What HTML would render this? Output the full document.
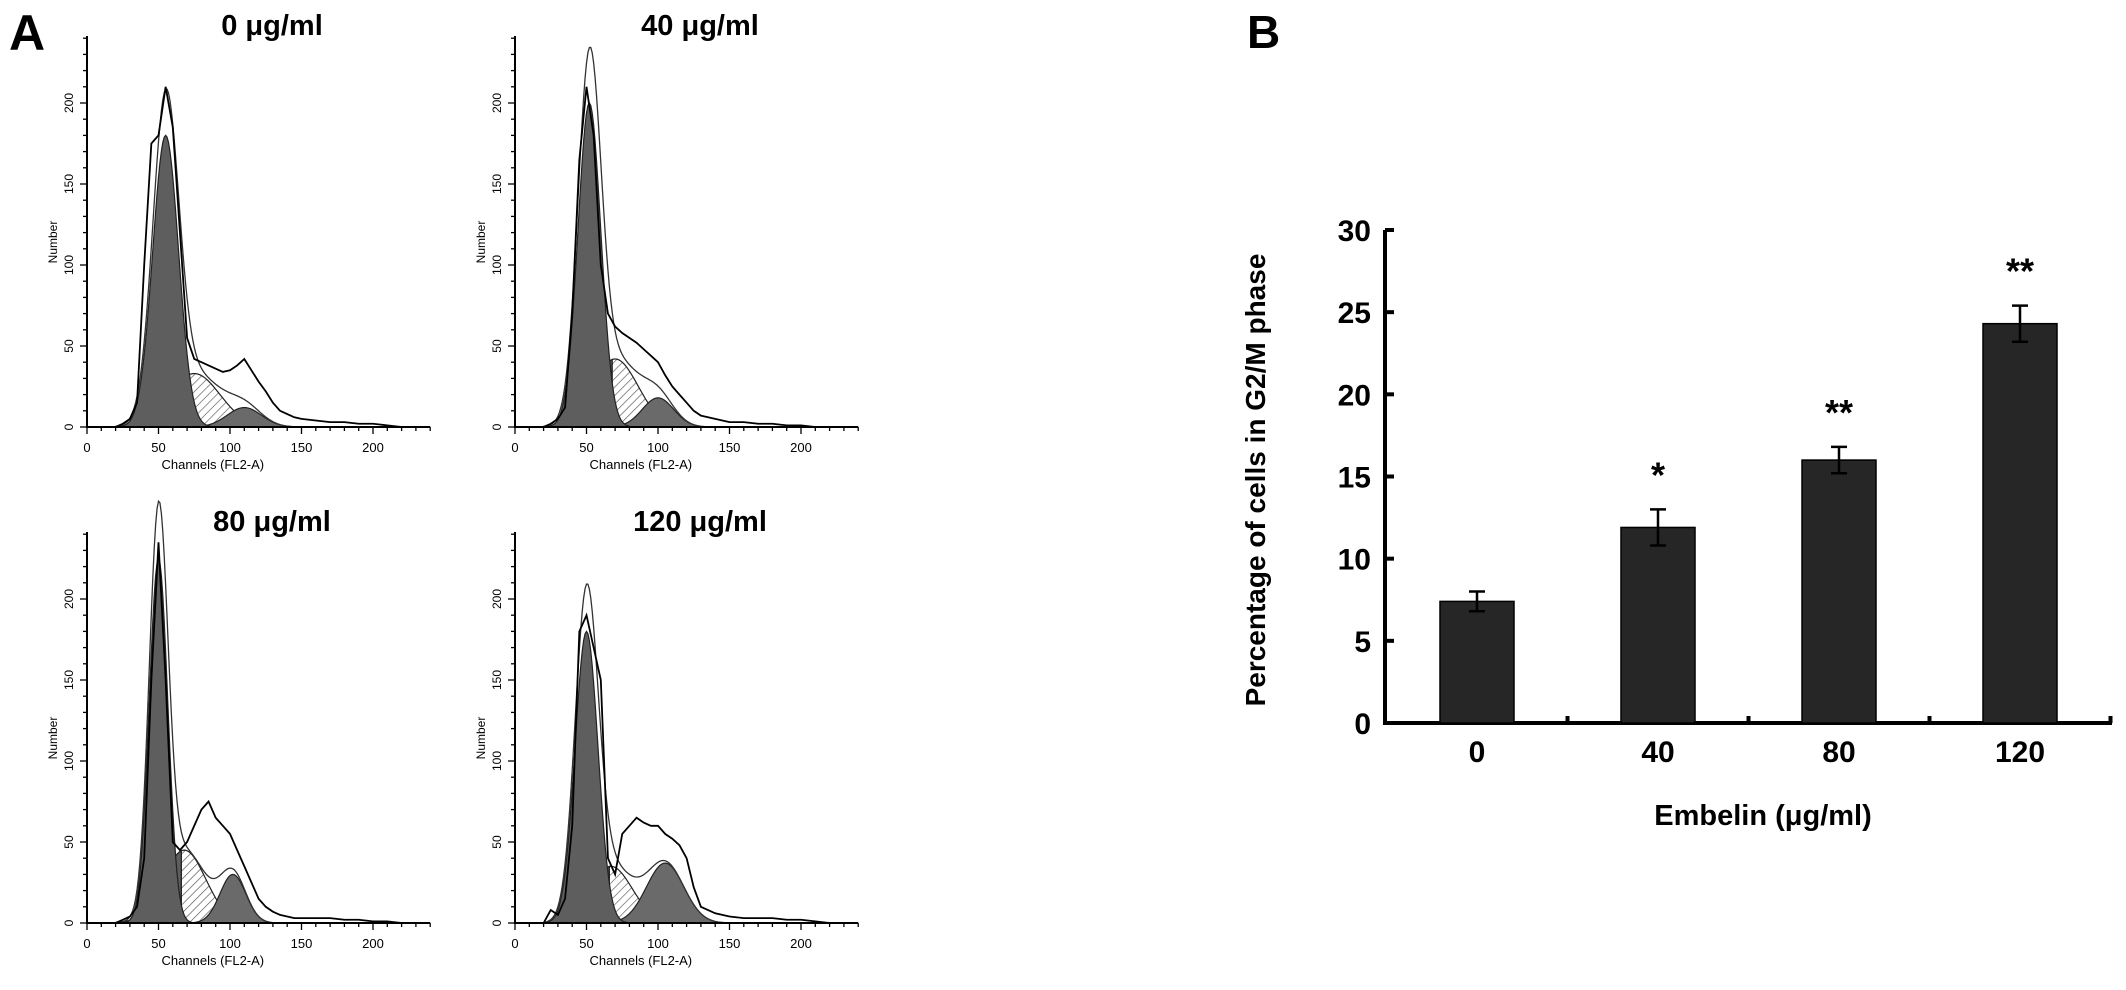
<!DOCTYPE html>
<html><head><meta charset="utf-8"><style>
body{margin:0;background:#fff;}
svg text{font-family:"Liberation Sans",sans-serif;}
</style></head><body>
<svg id="fig" width="2126" height="985" viewBox="0 0 2126 985" xmlns="http://www.w3.org/2000/svg">
<defs>
<pattern id="hatch" patternUnits="userSpaceOnUse" width="6" height="6" patternTransform="rotate(45)">
<rect width="6" height="6" fill="#fff"/><line x1="0" y1="0" x2="0" y2="6" stroke="#555" stroke-width="1.3"/>
</pattern>
</defs>
<text x="9" y="50" font-size="50" font-weight="bold">A</text>
<text x="1247" y="48" font-size="46" font-weight="bold">B</text>
<g id="hists"></g>
<g id="bars"></g>
</svg>
<script>
// ---------- Histogram data ----------
const histTitles = ["0 μg/ml","40 μg/ml","80 μg/ml","120 μg/ml"];
const histChannels = [20,25,30,35,40,45,50,55,60,65,70,75,80,85,90,95,100,105,110,115,120,125,130,135,140,145,150,160,170,180,190,200,210,220];
const histRaw0 = [0,2,5,15,100,175,180,210,185,120,55,42,40,38,36,34,35,38,42,35,28,22,15,10,8,6,5,4,3,3,2,2,1,0];
const histRaw1 = [0,2,5,12,70,165,210,180,100,70,62,58,55,52,48,44,40,32,25,20,15,10,7,6,5,4,3,3,2,2,1,1,0,0];
const histRaw2 = [0,2,4,10,40,150,235,150,50,45,50,60,70,75,65,60,55,45,35,25,15,10,7,5,4,3,3,3,3,2,2,1,1,0];
const histRaw3 = [0,8,5,15,60,180,190,170,150,40,30,55,60,65,62,60,60,55,52,48,40,22,10,8,6,5,4,3,3,3,2,2,1,0];
const histRaws = [histRaw0,histRaw1,histRaw2,histRaw3];
// G1 peak: mean, sd, height
const g1Mean = [55,52,50,50];
const g1Sd = [9,8,6.5,8];
const g1Height = [180,200,225,180];
// S phase broad
const sMean = [75,70,68,67];
const sSd = [18,16,15,15];
const sHeight = [33,42,45,35];
// G2 peak
const g2Mean = [110,100,102,105];
const g2Sd = [12,11,9,13];
const g2Height = [12,18,30,37];

const NS="http://www.w3.org/2000/svg";
function el(tag,attrs,parent){const e=document.createElementNS(NS,tag);for(const k in attrs)e.setAttribute(k,attrs[k]);parent.appendChild(e);return e;}
const hg=document.getElementById('hists');
const panelOrigins=[[87,427],[515,427],[87,923],[515,923]];
const hx=1.43, hy=1.62;
function gauss(x,m,s,h){return h*Math.exp(-0.5*((x-m)/s)**2);}
panelOrigins.forEach((o,i)=>{
  const [ox,oy]=o;
  const g=el('g',{},hg);
  
  
  const X=c=>ox+c*hx, Y=v=>oy-v*hy;
  const t=el('text',{x:ox+185,y:oy-392,'font-size':29,'font-weight':'bold','text-anchor':'middle'},g);
  t.textContent=histTitles[i];
  
  
  const area=(f,fill,name,c0,c1)=>{let d='M'+X(c0)+','+Y(0);for(let c=c0;c<=c1;c+=1){d+=' L'+X(c)+','+Y(f(c));}d+=' L'+X(c1)+','+Y(0)+'Z';
    const p=el('path',{d:d,fill:fill,stroke:'#222','stroke-width':1.2},g);
    
    };
  const sF=c=>gauss(c,sMean[i],sSd[i],sHeight[i]);
  const cut=g1Mean[i]+16;
  area(sF,'#5e5e5e','s-phase-area-inner',20,cut);
  area(sF,'url(#hatch)','s-phase-area',cut,200);
  area(c=>gauss(c,g2Mean[i],g2Sd[i],g2Height[i]),'#6a6a6a','g2-area',40,200);
  area(c=>gauss(c,g1Mean[i],g1Sd[i],g1Height[i]),'#5e5e5e','g1-area',20,120);
  let fd='';for(let c=20,k=0;c<=200;c++,k++){const v=gauss(c,g1Mean[i],g1Sd[i],g1Height[i]*1.06)+sF(c)+gauss(c,g2Mean[i],g2Sd[i],g2Height[i]);fd+=(k?' L':'M')+X(c)+','+Y(v);}
  const fp=el('path',{d:fd,fill:'none',stroke:'#333','stroke-width':1.3},g);
  
  
  let rd='';histChannels.forEach((c,k)=>{rd+=(k?' L':'M')+X(c)+','+Y(histRaws[i][k]);});
  const rp=el('path',{d:rd,fill:'none',stroke:'#000','stroke-width':1.8},g);
  
  
  const ax=el('path',{d:`M${ox},${oy-391}V${oy}H${X(240)}`,fill:'none',stroke:'#000','stroke-width':2},g);
  
  
  for(let v=0;v<=240;v+=10){el('line',{x1:ox-(v%50?4:7),x2:ox,y1:Y(v),y2:Y(v),stroke:'#000','stroke-width':1.3},g);}
  [0,50,100,150,200].forEach(v=>{const tt=el('text',{x:ox-14,y:Y(v),'font-size':12,'text-anchor':'middle',transform:`rotate(-90 ${ox-14} ${Y(v)})`},g);tt.textContent=v;
    });
  for(let c=0;c<=240;c+=10){el('line',{x1:X(c),x2:X(c),y1:oy,y2:oy+(c%50?4:7),stroke:'#000','stroke-width':1.3},g);}
  [0,50,100,150,200].forEach(c=>{const tt=el('text',{x:X(c),y:oy+25,'font-size':13,'text-anchor':'middle'},g);tt.textContent=c;
    });
  const yl=el('text',{x:ox-30,y:oy-185,'font-size':12,'text-anchor':'middle',transform:`rotate(-90 ${ox-30} ${oy-185})`},g);yl.textContent='Number';
  
  const xl=el('text',{x:X(88),y:oy+42,'font-size':13,'text-anchor':'middle'},g);xl.textContent='Channels (FL2-A)';
  
});

// ---------- Bar chart data ----------
const barCategories = ["0","40","80","120"];
const barValues = [7.4,11.9,16.0,24.3];
const barErrors = [0.6,1.1,0.8,1.1];
const barStars = ["","*","**","**"];
const yTicks = [0,5,10,15,20,25,30];

const bg=document.getElementById('bars');
const axX=1385, y0=723, yTop=230, yMax=30;
const yS=v=>y0-(v/yMax)*(y0-yTop);
const step=181, bw=74;
const xC=i=>axX+92+i*step;
const axis=el('path',{d:`M${axX},${yTop}V${y0}H${2112}`,fill:'none',stroke:'#000','stroke-width':4},bg);

yTicks.forEach(v=>{el('line',{x1:axX,x2:axX+9,y1:yS(v),y2:yS(v),stroke:'#000','stroke-width':4},bg);
  const t=el('text',{x:axX-14,y:yS(v)+11,'font-size':30,'font-weight':'bold','text-anchor':'end'},bg);t.textContent=v;
  });
barCategories.forEach((c,i)=>{
  el('line',{x1:xC(i)+step/2,x2:xC(i)+step/2,y1:y0,y2:y0-7,stroke:'#000','stroke-width':4},bg);
  const r=el('rect',{x:xC(i)-bw/2,y:yS(barValues[i]),width:bw,height:y0-yS(barValues[i]),fill:'#262626',stroke:'#000','stroke-width':1.5},bg);
  
  const hi=yS(barValues[i]+barErrors[i]), lo=yS(barValues[i]-barErrors[i]);
  const e=el('path',{d:`M${xC(i)},${hi}V${lo}M${xC(i)-8},${hi}H${xC(i)+8}M${xC(i)-8},${lo}H${xC(i)+8}`,stroke:'#000','stroke-width':2.5,fill:'none'},bg);
  
  if(barStars[i]){const s=el('text',{x:xC(i),y:hi-22,'font-size':36,'font-weight':'bold','text-anchor':'middle'},bg);s.textContent=barStars[i];
    }
  const t=el('text',{x:xC(i),y:y0+39,'font-size':30,'font-weight':'bold','text-anchor':'middle'},bg);t.textContent=c;
  
});
const yt=el('text',{x:1265,y:480,'font-size':28,'font-weight':'bold','text-anchor':'middle',transform:'rotate(-90 1265 480)'},bg);
yt.textContent='Percentage of cells in G2/M phase';

const xt=el('text',{x:1763,y:825,'font-size':29,'font-weight':'bold','text-anchor':'middle'},bg);
xt.textContent='Embelin (μg/ml)';

</script>
</body></html>
